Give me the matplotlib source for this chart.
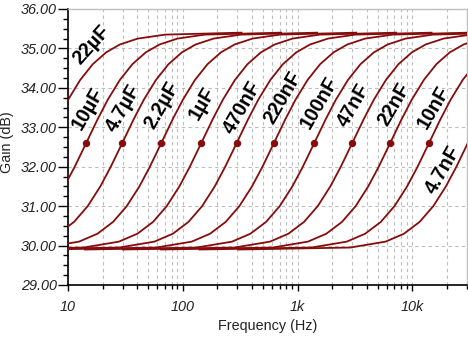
import matplotlib
matplotlib.use("Agg")
import matplotlib.pyplot as plt
from matplotlib.ticker import FixedLocator, FixedFormatter, MultipleLocator, FormatStrFormatter

# ---- data ----
# shared gain levels (dB); each curve lists the frequency (Hz) where it reaches that level
gain_levels = [29.9, 29.95, 30.1, 30.3, 30.6, 31.0, 31.5, 32.0, 32.6, 33.2, 33.7, 34.2,
               34.6, 34.9, 35.1, 35.25, 35.35, 35.4]

cap_labels = ["22µF", "10µF", "4.7µF", "2.2µF", "1µF", "470nF", "220nF", "100nF",
              "47nF", "22nF", "10nF", "4.7nF"]

freq_22u = [0.065, 0.614, 1.248, 1.804, 2.47, 3.25, 4.19, 5.17, 6.5, 8.16, 10.03, 12.77,
            16.43, 21.5, 28.3, 40.6, 70.2, 325]
freq_10u = [0.144, 1.361, 2.765, 3.996, 5.47, 7.2, 9.27, 11.45, 14.4, 18.09, 22.22, 28.3,
            36.4, 47.6, 62.8, 90, 155.5, 720]
freq_4u7 = [0.297, 2.807, 5.70, 8.24, 11.29, 14.85, 19.13, 23.6, 29.7, 37.3, 45.8, 58.4,
            75.1, 98.2, 129.5, 185.6, 320.8, 1485]
freq_2u2 = [0.65, 6.14, 12.48, 18.04, 24.7, 32.5, 41.9, 51.7, 65, 81.6, 100.3, 127.7,
            164.3, 215, 283, 406, 702, 3250]
freq_1u = [1.45, 13.7, 27.8, 40.2, 55.1, 72.5, 93.4, 115.3, 145, 182.1, 223.7, 284.9,
           366.4, 479.5, 632, 906, 1566, 7250]
freq_470n = [2.95, 27.9, 56.6, 81.9, 112.1, 147.5, 190, 234.5, 295, 370.5, 455.2, 579.7,
             745.5, 975.6, 1286, 1844, 3186, 14750]
freq_220n = [6.23, 58.9, 119.6, 172.9, 236.7, 311.5, 401.2, 495.3, 623, 782.5, 961.3, 1224,
             1574, 2060, 2716, 3894, 6728, 31150]
freq_100n = [14, 132.3, 268.8, 388.5, 532, 700, 901.6, 1113, 1400, 1758, 2160, 2751,
             3538, 4630, 6104, 8750, 15120, 70000]
freq_47n = [30, 283.5, 576, 832.5, 1140, 1500, 1932, 2385, 3000, 3768, 4629, 5895,
            7581, 9921, 13080, 18750, 32400, 150000]
freq_22n = [64.2, 606.7, 1233, 1782, 2440, 3210, 4134, 5104, 6420, 8064, 9906, 12615,
            16223, 21231, 27991, 40125, 69336, 321000]
freq_10n = [140, 1323, 2688, 3885, 5320, 7000, 9016, 11130, 14000, 17584, 21602, 27510,
            35378, 46298, 61040, 87500, 151200, 700000]
freq_4n7 = [305, 2882, 5856, 8464, 11590, 15250, 19640, 24250, 30500, 38310, 47060, 59930,
            77070, 100860, 132980, 190630, 329400, 1525000]

curves = [freq_22u, freq_10u, freq_4u7, freq_2u2, freq_1u, freq_470n, freq_220n,
          freq_100n, freq_47n, freq_22n, freq_10n, freq_4n7]

# marker (dot) level on every curve
dot_gain = 32.6
dot_index = gain_levels.index(dot_gain)

# label anchor positions (frequency, gain) and rotation
label_freq = [16.0, 15.0, 30.3, 65.5, 148.5, 331, 751, 1536, 3099, 6916, 15430, 18590]
label_gain = [35.09, 33.48, 33.48, 33.57, 33.60, 33.50, 33.74, 33.62, 33.57, 33.57, 33.50, 31.92]
label_rot = [48, 60, 60, 60, 60, 60, 60, 60, 60, 60, 60, 60]

x_ticks = [10, 100, 1000, 10000]
x_ticklabels = ["10", "100", "1k", "10k"]
y_ticks = [29, 30, 31, 32, 33, 34, 35, 36]
x_min, x_max = 10, 30000
y_min, y_max = 29, 36

# ---- drawing ----
W, H, DPI = 468, 337, 100
fig = plt.figure(figsize=(W / DPI, H / DPI), dpi=DPI)
fig.patch.set_facecolor("white")
AX_L, AX_R, AX_T, AX_B = 68, 467, 9, 285
ax = fig.add_axes([AX_L / W, (H - AX_B) / H, (AX_R - AX_L) / W, (AX_B - AX_T) / H])

line_color = "#870c0c"
for f in curves:
    ax.plot(f, gain_levels, color=line_color, lw=1.3, zorder=3)
    fd = f[dot_index]
    if x_min <= fd <= x_max:
        ax.plot([fd], [gain_levels[dot_index]], "o", color=line_color, ms=4.3, zorder=4)

ax.set_xscale("log")
ax.set_xlim(x_min, x_max)
ax.set_ylim(y_min, y_max)

minor_x = [m * 10 ** e for e in range(1, 5) for m in range(2, 10) if m * 10 ** e <= x_max]
ax.xaxis.set_major_locator(FixedLocator(x_ticks))
ax.xaxis.set_major_formatter(FixedFormatter(x_ticklabels))
ax.xaxis.set_minor_locator(FixedLocator(minor_x))
ax.xaxis.set_minor_formatter(FixedFormatter([""] * len(minor_x)))
ax.yaxis.set_major_locator(FixedLocator(y_ticks))
ax.yaxis.set_major_formatter(FormatStrFormatter("%.2f"))
ax.yaxis.set_minor_locator(MultipleLocator(0.25))

grid_kw = dict(color="#bcbcbc", lw=0.8, dashes=(3, 3))
ax.grid(True, which="major", axis="both", **grid_kw)
ax.grid(True, which="minor", axis="x", **grid_kw)
ax.set_axisbelow(True)

for lab in ax.get_xticklabels() + ax.get_yticklabels():
    lab.set_fontfamily("Liberation Sans")
    lab.set_fontstyle("italic")
    lab.set_fontsize(10.4)
    lab.set_color("#222222")

ax.tick_params(axis="y", which="major", length=7, width=1, pad=1.2, direction="out")
ax.tick_params(axis="y", which="minor", length=3.6, width=1, direction="out")
ax.tick_params(axis="x", which="major", length=4.5, width=1, pad=6, direction="out")
ax.tick_params(axis="x", which="minor", length=3, width=1, direction="out")

for s in ("left", "bottom"):
    ax.spines[s].set_color("black")
    ax.spines[s].set_linewidth(1.2)
for s in ("top", "right"):
    ax.spines[s].set_color("#c0c0c0")
    ax.spines[s].set_linewidth(1)

ax.set_xlabel("Frequency (Hz)", family="Liberation Sans", size=10.4, color="#222222",
              labelpad=4)
ax.set_ylabel("Gain (dB)", family="Liberation Sans", size=10.4, color="#222222")
ax.yaxis.set_label_coords((14.5 - AX_L) / (AX_R - AX_L), (AX_B - 142.5) / (AX_B - AX_T))

for txt, lf, lg, rot in zip(cap_labels, label_freq, label_gain, label_rot):
    ax.text(lf, lg, txt, rotation=rot, rotation_mode="anchor", ha="center", va="center",
            family="Liberation Sans", weight="bold", size=14.2, color="black", zorder=5)

fig.savefig("out.png", dpi=DPI, facecolor="white")
